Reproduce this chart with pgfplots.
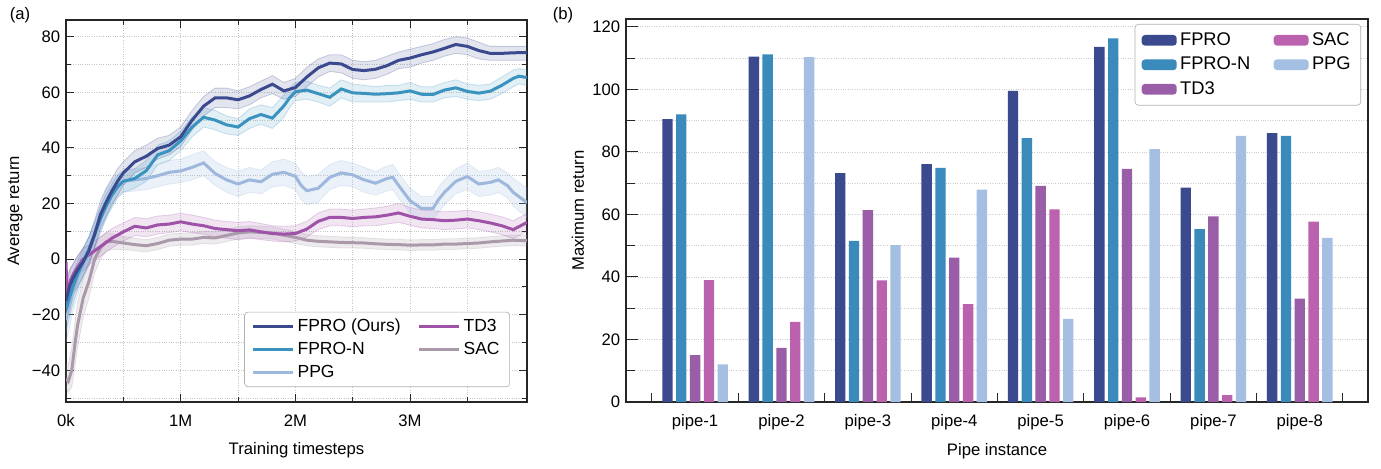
\documentclass[border=0pt]{standalone}
\usepackage{fontspec}
\setmainfont{Liberation Sans}
\usepackage{pgfplots}
\pgfplotsset{compat=1.18}
\usepgfplotslibrary{fillbetween}

\definecolor{cF}{HTML}{3B4A8E}
\definecolor{cN}{HTML}{3A92BE}
\definecolor{cP}{HTML}{9DB8DC}
\definecolor{cT}{HTML}{9E52A8}
\definecolor{cS}{HTML}{A999AA}
% bar colours
\definecolor{bF}{HTML}{3B4A8E}
\definecolor{bN}{HTML}{3A8ABB}
\definecolor{bT}{HTML}{9A5EA8}
\definecolor{bS}{HTML}{BA62AD}
\definecolor{bP}{HTML}{A4BFE2}

\pgfplotsset{
  linelegend/.style={legend image code/.code={\draw[##1,line width=1.8pt] (0pt,0pt) -- (24pt,0pt);}},
  barlegend/.style={legend image code/.code={\fill[##1] (0pt,-3.2pt) rectangle (21pt,3.2pt);}},
  band/.style={draw=#1, draw opacity=0.25, line width=0.5pt, forget plot},
  mybar/.style={ybar, bar width=0.12, bar shift=#1, draw=none, barlegend},
}

% x (M steps), mean, lower, upper
\pgfplotstableread{
x y lo hi
0 -15 -22 -8
0.03 -10 -17 -4
0.06 -7 -13 -2
0.1 -4 -10 1
0.15 -1 -6 4
0.2 3 -2 8
0.25 9 4 14
0.3 16 11 21
0.35 20.5 15.5 25.5
0.4 24.5 19.5 29
0.45 28 23 32.5
0.5 31 26.5 35
0.6 35 31 39
0.7 37 33 41
0.8 39.8 36 43.5
0.9 41 37.5 44.5
1.0 44 40.5 47.5
1.1 50 46.5 53.5
1.2 55 51.5 58.5
1.3 58 54.5 61.5
1.4 58 54.5 61.5
1.5 57.3 54 60.5
1.6 58.7 55.5 62
1.7 61 58 64
1.8 62.9 59.5 66
1.9 60.5 57.5 63.5
2.0 61.7 58.5 65
2.1 65.5 62 69
2.2 68.8 65.5 72
2.3 70.5 67.5 73.5
2.4 70.2 67 73.5
2.5 68.2 65 71.5
2.6 67.8 64.5 71
2.7 68.3 65 71.5
2.8 69.6 66.5 73
2.9 71.5 68.5 74.5
3.0 72.3 69 75.5
3.1 73.5 70.5 76.5
3.2 74.5 71.5 77.5
3.3 75.8 73 79
3.4 77.2 74 80
3.5 76.5 73.5 79.5
3.6 75 72 78
3.7 74 71.5 76.5
3.8 74 71.5 76.5
3.9 74.2 71.5 76.5
4.02 74.3 71.5 76.5
}\fpro

\pgfplotstableread{
x y lo hi
0 -18 -26 -11
0.03 -14 -21 -8
0.06 -10 -16 -5
0.1 -5.5 -11 -1
0.15 -1 -6 4
0.2 3.5 -1 8
0.25 9 4.5 13.5
0.3 14.5 10 19
0.35 19 14.5 23.5
0.4 23 18.5 27
0.45 26 22 30
0.5 28 24 31.5
0.6 29 25.5 32.5
0.7 31.8 28 35.5
0.8 37.5 34 41
0.9 39 35.5 42.5
1.0 42.5 39 46
1.1 47.5 44 51
1.2 51 47.5 54.5
1.3 50 46.5 53.5
1.4 48.3 45 51.5
1.5 47.5 44.5 50.5
1.6 50.5 47 54
1.7 52 48.5 55.5
1.8 50.7 47 54.5
1.9 55.1 51 59
1.95 58 54.5 61.5
2.0 60.2 57 63.5
2.1 60.8 57.5 64
2.2 59.5 56.5 62.5
2.3 58.2 55 61.5
2.4 61.2 58 64.5
2.5 59.8 56.5 63
2.6 59.6 56.5 62.5
2.7 59.3 56.5 62
2.8 59.5 56.5 62.5
2.9 59.8 57 62.5
3.0 60.5 57.5 63.5
3.1 59.3 56.5 62
3.2 59.2 56.5 62
3.3 60.8 58 63.5
3.4 61.6 58.5 64.5
3.5 60.3 57.5 63
3.6 59.7 57 62.5
3.7 60.4 57.5 63
3.8 62.5 59.5 65.5
3.9 65 62 68
3.95 65.8 63 68.5
4.02 65.3 62.5 68
}\fpron

\pgfplotstableread{
x y lo hi
0 -22 -30 -14
0.03 -17 -25 -10
0.06 -12 -19 -6
0.1 -7 -13 -2
0.15 -2 -7 3
0.2 3 -2 8
0.25 8 3 13
0.3 14 9 19
0.35 20 15 25
0.4 24 19.5 28.5
0.45 26.5 22.5 30.5
0.5 28 24 32
0.6 28.5 24.5 32.5
0.7 29 25 33
0.8 30 26 34
0.9 31.2 27 35.5
1.0 31.7 27.5 36
1.1 33 28.5 37.5
1.2 34.6 30 39
1.3 30.8 26.5 35
1.4 28.5 24 33
1.5 27 22.5 31.5
1.6 28.5 24 33
1.7 27.8 23.5 32
1.8 30.5 26 35
1.9 31.2 26.5 36
2.0 29.8 25 34.5
2.05 26.5 21.5 31.5
2.1 24.6 19.5 29.5
2.2 25.5 20.5 30.5
2.3 29.4 25 34
2.4 31 26.5 35.5
2.5 30.3 26 34.5
2.6 28.5 24 33
2.7 27.3 23 31.5
2.8 29 24.5 33.5
2.85 29.4 25 34
2.9 26.5 22 31
3.0 21 16.5 25.5
3.1 18.2 14 22.5
3.2 18.2 14 22.5
3.25 21.5 17 26
3.3 24 19.5 28.5
3.4 28 23.5 32.5
3.5 29.7 25 34.5
3.6 27 22.5 31.5
3.7 27.6 23 32
3.77 28.5 24 33
3.85 26.4 22 31
3.9 24 19 29
4.02 20.3 15 25.5
}\ppg

\pgfplotstableread{
x y lo hi
0 -1 -6 4
0.01 -14 -19 -8
0.04 -7.5 -12 -3
0.07 -5 -9.5 -1
0.1 -3 -7 1
0.15 0 -4 4
0.2 1.5 -2 5
0.3 4.5 1 8
0.4 7.5 4 11
0.5 9.8 6.5 13
0.6 11.8 8.5 15
0.7 11.2 8 14.5
0.8 12.3 9 15.5
0.9 12.6 9.5 15.8
1.0 13.4 10.2 16.5
1.1 12.6 9.5 15.8
1.2 12 9 15
1.3 11 8 14
1.4 10.6 7.5 13.5
1.5 10.2 7 13.2
1.6 10.5 7.5 13.5
1.7 9.8 7 12.8
1.8 9.2 6.5 12
1.9 9 6.2 11.8
2.0 9.2 6.5 12
2.1 10.8 8 13.6
2.2 13.6 10.6 16.6
2.3 15 12 18
2.4 15 12 18
2.5 14.6 11.6 17.6
2.6 15 12 18
2.7 15.2 12 18.4
2.8 15.8 12.6 19
2.9 16.6 13.2 20
3.0 15.4 12.2 18.6
3.1 14.4 11.2 17.6
3.2 14.2 11 17.4
3.3 13.8 10.6 17
3.4 14 10.8 17.2
3.5 14.4 11.2 17.6
3.6 13.8 10.6 17
3.7 13 9.8 16.2
3.8 12 8.8 15.2
3.9 10.6 7.4 13.8
4.02 13.2 10 16.4
}\tdthree

\pgfplotstableread{
x y lo hi
0 -43 -46 -38
0.02 -44 -48 -38
0.05 -40 -46 -32
0.08 -30 -38 -22
0.1 -24 -32 -16
0.15 -14 -21 -7
0.2 -8 -14 -2
0.25 0 -5 5
0.3 4 0 8
0.35 6.2 3 9.5
0.4 6.4 3.5 9.3
0.5 5.8 3.5 8.2
0.6 5.2 3 7.5
0.7 4.8 2.6 7
0.8 5.6 3.4 7.8
0.9 6.8 4.6 9
1.0 7.2 5 9.4
1.1 7.2 5 9.4
1.2 7.8 5.6 10
1.3 7.6 5.4 9.8
1.4 8.5 6.3 10.7
1.5 9.4 7.2 11.6
1.6 9.8 7.6 12
1.7 9.6 7.4 11.8
1.8 9.4 7.2 11.6
1.9 8.6 6.4 10.8
2.0 7.8 5.6 10
2.1 6.8 4.8 8.8
2.2 6.4 4.4 8.4
2.3 6.2 4.2 8.2
2.4 6 4 8
2.5 5.9 4 7.8
2.6 5.8 3.9 7.7
2.7 5.5 3.6 7.4
2.8 5.3 3.4 7.2
2.9 5.2 3.3 7.1
3.0 5 3.1 6.9
3.1 5.1 3.2 7
3.2 5.1 3.2 7
3.3 5.4 3.5 7.3
3.4 5.4 3.5 7.3
3.5 5.6 3.7 7.5
3.6 5.8 3.9 7.7
3.7 6.2 4.3 8.1
3.8 6.5 4.6 8.4
3.9 6.8 4.9 8.7
4.02 6.6 4.7 8.5
}\sac

\begin{document}
\begin{tikzpicture}[font=\fontsize{10}{12}\selectfont]

% ---------------- (a) learning curves ----------------
\begin{axis}[
  at={(0pt,0pt)}, anchor=south west,
  scale only axis, width=276.6pt, height=229.2pt,
  xmin=0, xmax=4.02, ymin=-51.4, ymax=86,
  xtick={0,1,2,3}, xticklabels={0k,1M,2M,3M},
  minor xtick={0.5,1.5,2.5,3.5},
  ytick={-40,-20,0,20,40,60,80},
  yticklabels={−40,−20,0,20,40,60,80},
  minor ytick={-50,-30,-10,10,30,50,70},
  grid=both,
  major grid style={densely dotted, gray!45},
  minor grid style={densely dotted, gray!45},
  tick align=inside,
  major tick length=5pt, minor tick length=3pt,
  tick style={black!85, line width=0.6pt},
  axis line style={black!85, line width=0.8pt},
  xticklabel style={yshift=-4pt},
  xlabel={Training timesteps}, ylabel={Average return},
  xlabel style={at={(axis description cs:0.5,0)}, anchor=center, yshift=-29pt},
  ylabel style={at={(axis description cs:-0.1106,0.5)}, anchor=center},
  linelegend,
  legend columns=2,
  legend cell align=left,
  legend style={at={(0.963,0.039)}, anchor=south east, draw=gray!60,
    rounded corners=2pt, fill=white, inner xsep=4pt, inner ysep=2pt,
    font=\fontsize{10.5}{12}\selectfont,
    /tikz/every even column/.append style={column sep=8pt},
    row sep=1pt},
]
% bands
\addplot[band=cS, name path=sh] table[x=x,y=hi]{\sac};
\addplot[band=cS, name path=sl] table[x=x,y=lo]{\sac};
\addplot[fill=cS, fill opacity=0.2, draw=none, forget plot] fill between[of=sh and sl];
\addplot[band=cT, name path=th] table[x=x,y=hi]{\tdthree};
\addplot[band=cT, name path=tl] table[x=x,y=lo]{\tdthree};
\addplot[fill=cT, fill opacity=0.15, draw=none, forget plot] fill between[of=th and tl];
\addplot[band=cP, name path=ph] table[x=x,y=hi]{\ppg};
\addplot[band=cP, name path=pl] table[x=x,y=lo]{\ppg};
\addplot[fill=cP, fill opacity=0.2, draw=none, forget plot] fill between[of=ph and pl];
\addplot[band=cN, name path=nh] table[x=x,y=hi]{\fpron};
\addplot[band=cN, name path=nl] table[x=x,y=lo]{\fpron};
\addplot[fill=cN, fill opacity=0.15, draw=none, forget plot] fill between[of=nh and nl];
\addplot[band=cF, name path=fh] table[x=x,y=hi]{\fpro};
\addplot[band=cF, name path=fl] table[x=x,y=lo]{\fpro};
\addplot[fill=cF, fill opacity=0.15, draw=none, forget plot] fill between[of=fh and fl];
% means
\addplot[cS, line width=1.8pt, forget plot] table[x=x,y=y]{\sac};
\addplot[cT, line width=1.8pt, forget plot] table[x=x,y=y]{\tdthree};
\addplot[cP, line width=1.8pt, forget plot] table[x=x,y=y]{\ppg};
\addplot[cN, line width=1.8pt, forget plot] table[x=x,y=y]{\fpron};
\addplot[cF, line width=1.8pt, forget plot] table[x=x,y=y]{\fpro};
\addlegendimage{cF}\addlegendentry{FPRO (Ours)}
\addlegendimage{cT}\addlegendentry{TD3}
\addlegendimage{cN}\addlegendentry{FPRO-N}
\addlegendimage{cS}\addlegendentry{SAC}
\addlegendimage{cP}\addlegendentry{PPG}
\end{axis}

% ---------------- (b) maximum return bars ----------------
\begin{axis}[
  at={(336pt,0pt)}, anchor=south west,
  scale only axis, width=445.2pt, height=229.8pt,
  xmin=0.2, xmax=8.79, ymin=0, ymax=122.5,
  xtick={1,2,3,4,5,6,7,8},
  xticklabels={pipe-1,pipe-2,pipe-3,pipe-4,pipe-5,pipe-6,pipe-7,pipe-8},
  minor xtick={0.5,1.5,2.5,3.5,4.5,5.5,6.5,7.5,8.5},
  major x tick style={draw=none},
  xticklabel style={yshift=-4pt},
  ytick={0,20,40,60,80,100,120},
  minor ytick={10,30,50,70,90,110},
  xtick pos=left, ytick pos=left,
  ymajorgrids, yminorgrids,
  major grid style={densely dotted, gray!40},
  minor grid style={densely dotted, gray!40},
  tick align=inside,
  major tick length=7pt, minor tick length=5.5pt,
  tick style={black!85, line width=0.6pt},
  axis line style={black!85, line width=0.8pt},
  /pgf/number format/assume math mode=true,
  xlabel={Pipe instance}, ylabel={Maximum return},
  xlabel style={at={(axis description cs:0.5,0)}, anchor=center, yshift=-29.4pt},
  ylabel style={at={(axis description cs:-0.0647,0.5)}, anchor=center},
  legend columns=3,
  transpose legend,
  legend cell align=left,
  legend style={at={(0.9906,0.987)}, anchor=north east, draw=gray!60,
    rounded corners=2pt, fill=white, inner xsep=4pt, inner ysep=3pt,
    font=\fontsize{11}{13}\selectfont,
    /tikz/every even column/.append style={column sep=12pt},
    row sep=1.5pt},
]
\addplot[mybar=-0.32, fill=bF]
  coordinates {(1,90.5)(2,110.5)(3,73.2)(4,76.1)(5,99.5)(6,113.6)(7,68.6)(8,86.0)};
\addlegendentry{FPRO}
\addplot[mybar=-0.16, fill=bN]
  coordinates {(1,92.0)(2,111.2)(3,51.5)(4,74.9)(5,84.4)(6,116.3)(7,55.3)(8,85.1)};
\addlegendentry{FPRO-N}
\addplot[mybar=0, fill=bT]
  coordinates {(1,15.0)(2,17.3)(3,61.4)(4,46.2)(5,69.1)(6,74.6)(7,59.4)(8,33.1)};
\addlegendentry{TD3}
\addplot[mybar=0.16, fill=bS]
  coordinates {(1,39.0)(2,25.6)(3,38.9)(4,31.3)(5,61.6)(6,1.5)(7,2.2)(8,57.7)};
\addlegendentry{SAC}
\addplot[mybar=0.32, fill=bP]
  coordinates {(1,12.0)(2,110.3)(3,50.2)(4,67.9)(5,26.6)(6,80.9)(7,85.1)(8,52.5)};
\addlegendentry{PPG}
\end{axis}

\node at (-27.6pt,232.2pt) {(a)};
\node at (298.2pt,232.2pt) {(b)};
\pgfresetboundingbox
\path[use as bounding box] (-39.6pt,-39.6pt) rectangle (789pt,241.2pt);
\end{tikzpicture}
\end{document}
